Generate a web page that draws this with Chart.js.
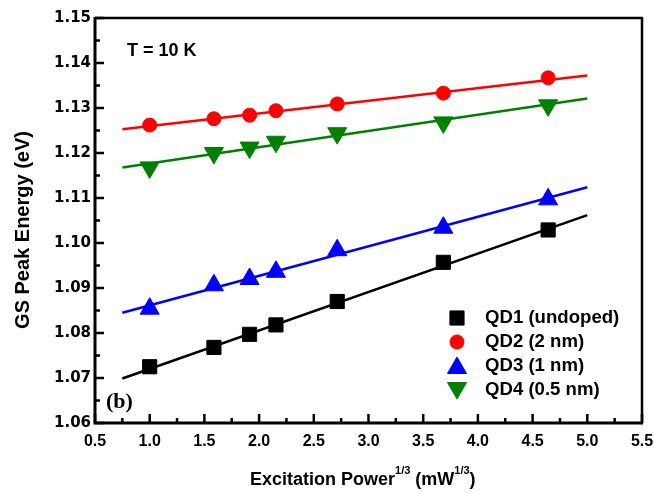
<!DOCTYPE html>
<html>
<head>
<meta charset="utf-8">
<script src="https://cdn.jsdelivr.net/npm/chart.js@4"></script>
<style>
body { margin: 0; background: #fff; }
#wrap { width: 654px; height: 494px; }
</style>
</head>
<body>
<div id="wrap"><canvas id="peakChart" width="654" height="494"></canvas></div>
<script>
// excitation power^(1/3), mW^(1/3)
const powerCubeRoot = [1.0, 1.587, 1.913, 2.154, 2.714, 3.684, 4.642];

// GS peak energy (eV)
const qd1Energy = [1.0725, 1.0768, 1.0797, 1.0818, 1.0870, 1.0957, 1.1029];
const qd2Energy = [1.1262, 1.1276, 1.1284, 1.1294, 1.1309, 1.1333, 1.1367];
const qd3Energy = [1.0854, 1.0906, 1.0920, 1.0936, 1.0984, 1.1034, 1.1097];
const qd4Energy = [1.1168, 1.1200, 1.1212, 1.1225, 1.1244, 1.1268, 1.1306];

// linear fits, read at the two ends of the drawn lines
const fitX = [0.75, 5.0];
const qd1Fit = [1.0699, 1.1062];
const qd2Fit = [1.1253, 1.1372];
const qd3Fit = [1.0845, 1.1124];
const qd4Fit = [1.1168, 1.1321];

const xTicks = [0.5, 1.0, 1.5, 2.0, 2.5, 3.0, 3.5, 4.0, 4.5, 5.0, 5.5];
const yTicks = [1.06, 1.07, 1.08, 1.09, 1.10, 1.11, 1.12, 1.13, 1.14, 1.15];

const seriesNames = ['QD1 (undoped)', 'QD2 (2 nm)', 'QD3 (1 nm)', 'QD4 (0.5 nm)'];

function toPoints(xs, ys) {
    return xs.map((v, i) => ({ x: v, y: ys[i] }));
}

function markers(label, ys, color, style, radius, rotation) {
    return {
        label: label,
        data: toPoints(powerCubeRoot, ys),
        showLine: false,
        pointStyle: style,
        pointRadius: radius,
        rotation: rotation || 0,
        backgroundColor: color,
        borderColor: color,
        borderWidth: 1
    };
}

function fitLine(ys, color) {
    return {
        label: 'fit',
        data: toPoints(fitX, ys),
        showLine: true,
        pointRadius: 0,
        borderColor: color,
        borderWidth: 2.5,
        fill: false
    };
}

const notes = {
    id: 'notes',
    afterDatasetsDraw(chart) {
        const { ctx, chartArea: a, scales: { x, y } } = chart;
        ctx.save();
        ctx.strokeStyle = '#000';

        // inward ticks
        ctx.lineWidth = 2.5;
        ctx.beginPath();
        yTicks.forEach((v, i) => {
            const py = y.getPixelForValue(v);
            ctx.moveTo(a.left, py);
            ctx.lineTo(a.left + 9, py);
            if (i < yTicks.length - 1) {
                const pm = y.getPixelForValue((v + yTicks[i + 1]) / 2);
                ctx.moveTo(a.left, pm);
                ctx.lineTo(a.left + 5, pm);
            }
        });
        xTicks.forEach((v, i) => {
            const px = x.getPixelForValue(v);
            ctx.moveTo(px, a.bottom);
            ctx.lineTo(px, a.bottom - 9);
            if (i < xTicks.length - 1) {
                const pm = x.getPixelForValue((v + xTicks[i + 1]) / 2);
                ctx.moveTo(pm, a.bottom);
                ctx.lineTo(pm, a.bottom - 5);
            }
        });
        ctx.stroke();

        // frame
        ctx.lineWidth = 2.5;
        ctx.beginPath();
        ctx.moveTo(a.left, a.top);
        ctx.lineTo(a.right, a.top);
        ctx.lineTo(a.right, a.bottom);
        ctx.stroke();
        ctx.lineWidth = 3;
        ctx.beginPath();
        ctx.moveTo(a.left, a.top - 1);
        ctx.lineTo(a.left, a.bottom);
        ctx.lineTo(a.right + 1, a.bottom);
        ctx.stroke();

        // legend
        ctx.font = 'bold 18.6px "Liberation Sans", Arial, sans-serif';
        ctx.textBaseline = 'middle';
        const rows = [318, 342, 366, 390];
        const dsets = chart.data.datasets.slice(0, 4);
        dsets.forEach((ds, i) => {
            ctx.fillStyle = ds.backgroundColor;
            ctx.strokeStyle = ds.borderColor;
            ctx.lineWidth = 1;
            let my = rows[i];
            if (ds.pointStyle === 'triangle') my += ds.rotation ? -2 : 2;
            Chart.helpers.drawPoint(ctx, {
                pointStyle: ds.pointStyle,
                radius: ds.pointRadius,
                rotation: ds.rotation,
                borderWidth: 1
            }, 457, my);
            ctx.fillStyle = '#000';
            ctx.fillText(seriesNames[i], 485, rows[i]);
        });

        // annotations
        ctx.textBaseline = 'alphabetic';
        ctx.fillStyle = '#000';
        ctx.font = 'bold 18px "Liberation Sans", Arial, sans-serif';
        ctx.fillText('T = 10 K', 127, 56);
        ctx.font = 'bold 22px "Liberation Serif", "Times New Roman", serif';
        ctx.fillText('(b)', 106, 408);

        // x axis title with superscripts
        const big = 'bold 18px "Liberation Sans", Arial, sans-serif';
        const small = 'bold 11px "Liberation Sans", Arial, sans-serif';
        const parts = [
            ['Excitation Power', big, 0],
            ['1/3', small, -11],
            [' (mW', big, 0],
            ['1/3', small, -11],
            [')', big, 0]
        ];
        let tx = 250;
        parts.forEach(([t, f, dy]) => {
            ctx.font = f;
            ctx.fillText(t, tx, 485 + dy);
            tx += ctx.measureText(t).width;
        });

        // y axis title
        ctx.save();
        ctx.translate(23, 230);
        ctx.rotate(-Math.PI / 2);
        ctx.font = 'bold 20px "Liberation Sans", Arial, sans-serif';
        ctx.textAlign = 'center';
        ctx.textBaseline = 'middle';
        ctx.fillText('GS Peak Energy (eV)', 0, 0);
        ctx.restore();

        ctx.restore();
    }
};

const ctx = document.getElementById('peakChart').getContext('2d');
new Chart(ctx, {
    type: 'scatter',
    data: {
        datasets: [
            markers(seriesNames[0], qd1Energy, '#000000', 'rect', 10),
            markers(seriesNames[1], qd2Energy, '#ff0000', 'circle', 7),
            markers(seriesNames[2], qd3Energy, '#0000ff', 'triangle', 11),
            markers(seriesNames[3], qd4Energy, '#008000', 'triangle', 11, 180),
            fitLine(qd1Fit, '#000000'),
            fitLine(qd2Fit, '#ff0000'),
            fitLine(qd3Fit, '#0000ff'),
            fitLine(qd4Fit, '#008000')
        ]
    },
    options: {
        responsive: false,
        animation: false,
        layout: { padding: { top: 18, right: 12, left: 0, bottom: 0 } },
        plugins: {
            legend: { display: false },
            tooltip: { enabled: false }
        },
        scales: {
            x: {
                type: 'linear',
                min: 0.5,
                max: 5.5,
                afterBuildTicks: s => { s.ticks = xTicks.map(v => ({ value: v })); },
                afterFit: s => { s.height = 71; s.paddingLeft = 0; s.paddingRight = 0; },
                grid: { display: false, drawTicks: false },
                border: { display: false },
                ticks: {
                    padding: 9,
                    color: '#000',
                    font: { family: '"Liberation Sans", Arial, sans-serif', weight: 'bold', size: 16 },
                    callback: v => v.toFixed(1)
                }
            },
            y: {
                min: 1.06,
                max: 1.15,
                afterBuildTicks: s => { s.ticks = yTicks.map(v => ({ value: v })); },
                afterFit: s => { s.width = 95; s.paddingTop = 0; s.paddingBottom = 0; },
                grid: { display: false, drawTicks: false },
                border: { display: false },
                ticks: {
                    padding: 4,
                    color: '#000',
                    font: { family: '"DejaVu Sans", sans-serif', weight: 'bold', size: 15 },
                    callback: v => v.toFixed(2)
                }
            }
        }
    },
    plugins: [notes]
});
</script>
</body>
</html>
